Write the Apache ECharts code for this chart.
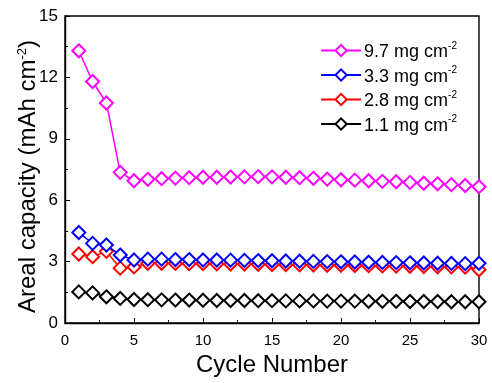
<!DOCTYPE html>
<html><head><meta charset="utf-8">
<script src="https://cdn.jsdelivr.net/npm/echarts@6/dist/echarts.min.js"></script>
<style>html,body{margin:0;padding:0;background:#fff}#c{width:492px;height:383px}</style>
</head><body><div id="c"></div>
<script>
const cycles = [1,2,3,4,5,6,7,8,9,10,11,12,13,14,15,16,17,18,19,20,21,22,23,24,25,26,27,28,29,30];
const s97 = [13.3,11.8,10.75,7.36,6.95,7.02,7.05,7.08,7.1,7.12,7.12,7.13,7.14,7.15,7.14,7.12,7.1,7.07,7.03,7.0,6.98,6.95,6.92,6.9,6.87,6.83,6.8,6.76,6.72,6.66];
const s33 = [4.42,3.89,3.81,3.32,3.08,3.12,3.12,3.1,3.1,3.08,3.08,3.07,3.06,3.05,3.04,3.03,3.02,3.01,3.0,2.99,2.98,2.97,2.96,2.95,2.94,2.93,2.92,2.91,2.9,2.92];
const s28 = [3.37,3.24,3.5,2.68,2.74,2.92,2.92,2.91,2.9,2.9,2.89,2.88,2.88,2.87,2.86,2.85,2.84,2.83,2.82,2.82,2.81,2.8,2.79,2.78,2.77,2.76,2.75,2.74,2.73,2.6];
const s11 = [1.52,1.47,1.28,1.2,1.15,1.14,1.13,1.12,1.12,1.11,1.1,1.1,1.1,1.09,1.09,1.08,1.08,1.08,1.07,1.07,1.07,1.06,1.06,1.06,1.05,1.05,1.05,1.04,1.04,1.04];
const names = ['9.7','3.3','2.8','1.1'];
const colors = ['#ff00ff','#0000ff','#ff0000','#000000'];
const seriesData = [s97,s33,s28,s11];
const font = 'Arial, "Liberation Sans", sans-serif';
const chart = echarts.init(document.getElementById('c'));
chart.setOption({
  animation:false,
  backgroundColor:'#fff',
  grid:{left:65,right:13,top:16,bottom:60,outerBoundsMode:'none',containLabel:false,show:true,borderColor:'#000',borderWidth:1.4,backgroundColor:'transparent'},
  legend:{
    orient:'vertical',right:30,top:36,itemWidth:40,itemHeight:14,itemGap:4,
    data:names.map(n=>n),
    formatter:n=>'{t|'+n+' mg cm}{s|-2}',
    textStyle:{padding:[0,0,0,-2],rich:{t:{fontFamily:font,fontSize:18,color:'#000',padding:[4,0,0,0]},s:{fontFamily:font,fontSize:10,color:'#000',padding:[0,0,9,0]}}}
  },
  xAxis:{type:'value',min:0,max:30,interval:5,
    axisLine:{lineStyle:{color:'#000',width:1.4}},
    axisTick:{inside:true,length:5,lineStyle:{color:'#000'}},
    minorTick:{show:true,splitNumber:2,length:3,lineStyle:{color:'#000'}},
    splitLine:{show:false},
    axisLabel:{fontFamily:font,fontSize:15,color:'#000',margin:10},
    name:'Cycle Number',nameLocation:'middle',nameGap:17,
    nameTextStyle:{fontFamily:font,fontSize:24,color:'#000'}},
  yAxis:{type:'value',min:0,max:15,interval:3,
    axisLine:{lineStyle:{color:'#000',width:1.4}},
    axisTick:{inside:true,length:5,lineStyle:{color:'#000'}},
    minorTick:{show:true,splitNumber:2,length:3,lineStyle:{color:'#000'}},
    splitLine:{show:false},
    axisLabel:{fontFamily:font,fontSize:17,color:'#000',margin:7},
    name:'{a|Areal capacity (mAh cm}{s|-2}{a|)}',nameLocation:'middle',nameGap:24,nameMoveOverlap:false,
    nameTextStyle:{padding:[0,14,0,0],rich:{a:{fontFamily:font,fontSize:24,color:'#000'},s:{fontFamily:font,fontSize:13,color:'#000',padding:[0,0,12,0]}}}},
  series:seriesData.map((d,i)=>({
    name:names[i],type:'line',
    data:cycles.map((c,j)=>[c,d[j]]),
    symbol:'emptyDiamond',symbolSize:13,
    lineStyle:{color:colors[i],width:1.5},
    itemStyle:{color:colors[i],borderWidth:1.6},
    z:10-i
  }))
});
</script></body></html>
